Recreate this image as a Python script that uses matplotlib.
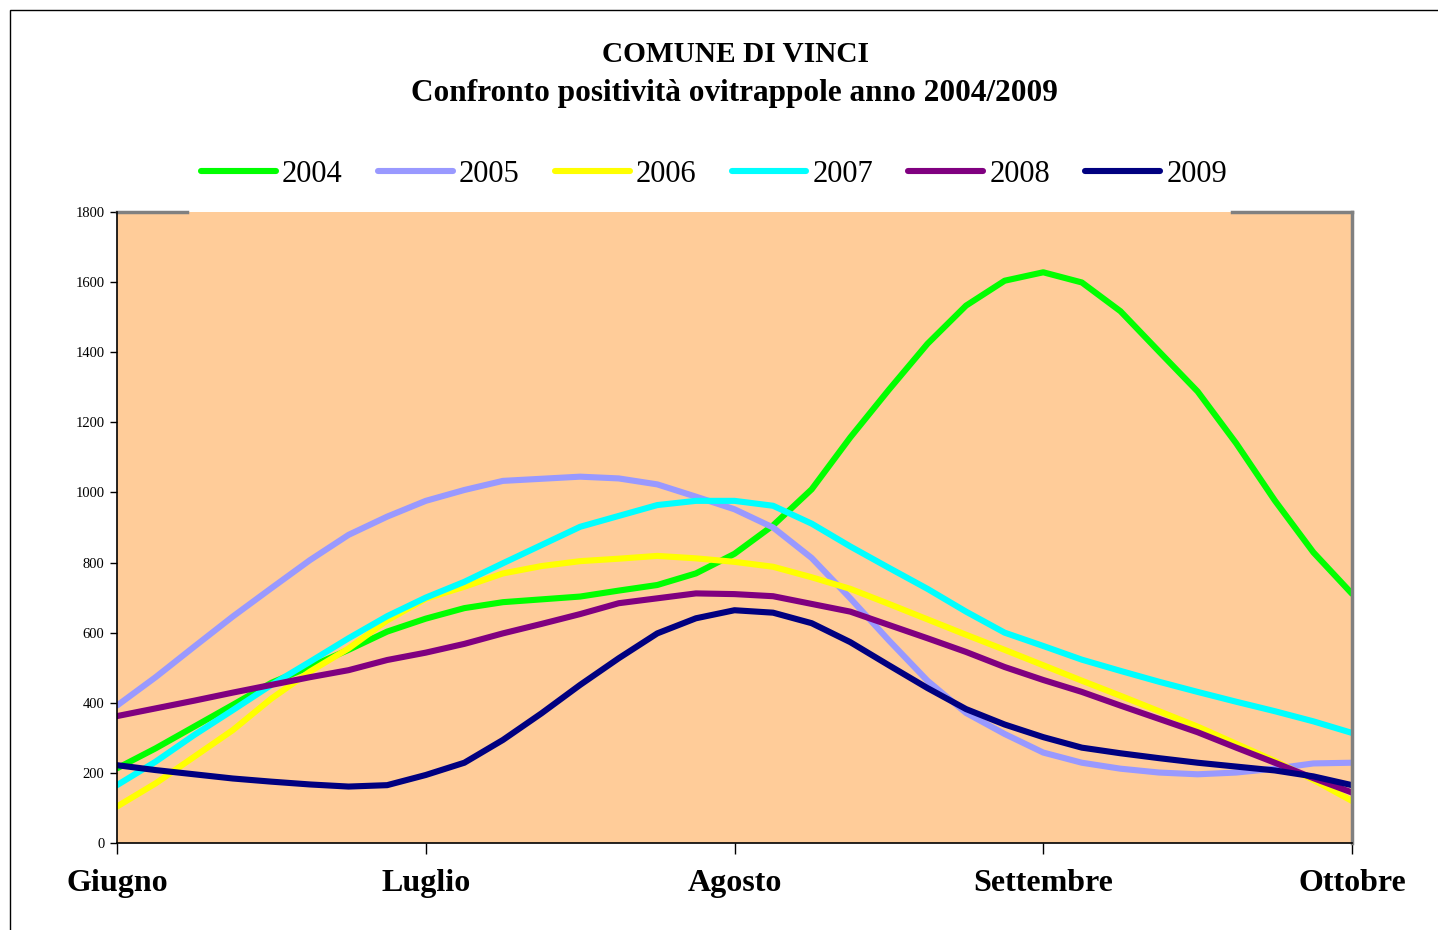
import matplotlib
matplotlib.use("Agg")
import matplotlib.pyplot as plt
from matplotlib.lines import Line2D
from matplotlib.patches import Rectangle

# 8 readings per month, Giugno -> Ottobre
months = ["Giugno", "Luglio", "Agosto", "Settembre", "Ottobre"]
steps_per_month = 8
years = ["2004", "2005", "2006", "2007", "2008", "2009"]

v2004 = [213, 270, 332, 394, 457, 503, 551, 603, 640, 670, 687, 695, 703, 720, 736, 769,
         825, 906, 1009, 1157, 1293, 1424, 1533, 1604, 1628, 1599, 1517, 1402, 1288, 1140,
         977, 829, 711]
v2005 = [392, 473, 560, 646, 727, 807, 879, 931, 976, 1007, 1033, 1039, 1045, 1040, 1023, 988,
         952, 900, 813, 698, 578, 463, 371, 311, 258, 229, 212, 201, 196, 201, 212, 227, 229]
v2006 = [104, 170, 246, 322, 412, 489, 555, 635, 697, 731, 769, 790, 804, 811, 819, 812,
         802, 788, 758, 725, 682, 638, 594, 551, 507, 463, 420, 376, 332, 283, 234, 180, 120]
v2007 = [165, 232, 308, 379, 451, 517, 584, 647, 700, 745, 798, 850, 902, 933, 964, 976,
         976, 962, 911, 846, 785, 725, 660, 600, 562, 523, 491, 460, 431, 403, 376, 347, 314]
v2008 = [362, 384, 406, 429, 451, 473, 493, 522, 543, 568, 598, 625, 653, 684, 698, 712,
         710, 704, 682, 660, 622, 584, 545, 502, 465, 431, 392, 354, 316, 272, 229, 185, 144]
v2009 = [222, 208, 196, 184, 175, 167, 161, 165, 194, 229, 294, 370, 451, 527, 598, 641,
         664, 657, 627, 573, 507, 442, 382, 338, 302, 272, 256, 242, 229, 218, 207, 190, 165]

series = [v2004, v2005, v2006, v2007, v2008, v2009]
colors = ["#00FF00", "#9999FF", "#FFFF00", "#00FFFF", "#800080", "#000080"]

plt.rcParams["font.family"] = ["Liberation Serif", "DejaVu Serif"]

fig = plt.figure(figsize=(14.38, 9.30), dpi=100)
W, H = 1438, 930

# outer chart frame
fig.patches.append(Rectangle((10 / W, -0.01), 1.0, 1 - 10 / H + 0.01, transform=fig.transFigure,
                             fill=False, edgecolor="black", linewidth=1.0))

ax = fig.add_axes([117 / W, 1 - 843 / H, (1352 - 117) / W, (843 - 212) / H])
ax.set_facecolor("#FFCC99")

x = [i / steps_per_month for i in range(len(v2004))]
for vals, col, yr in zip(series, colors, years):
    ax.plot(x, vals, color=col, lw=4.4, solid_capstyle="round", solid_joinstyle="round", label=yr)

ax.set_xlim(0, len(months) - 1)
ax.set_ylim(0, 1800)
ax.set_yticks(range(0, 1801, 200))
ax.set_xticks(range(len(months)))
ax.set_xticklabels(months, fontsize=23, fontweight="bold")
ax.tick_params(axis="y", labelsize=10.5, length=5, width=1, pad=4)
ax.tick_params(axis="x", length=8, width=1, pad=11)

for s in ("left", "bottom"):
    ax.spines[s].set_color("black")
    ax.spines[s].set_linewidth(1.2)
ax.spines["right"].set_color("#808080")
ax.spines["right"].set_linewidth(2.5)
ax.spines["top"].set_visible(False)
# top border partly hidden behind the legend box
for x0, x1 in [(0, (187 - 117) / 1235), ((1232 - 117) / 1235, 1)]:
    ax.add_line(Line2D([x0, x1], [1, 1], transform=ax.transAxes, color="#808080",
                       lw=2.5, clip_on=False))

fig.text(736 / W, 1 - 54 / H, "COMUNE DI VINCI", ha="center", va="center",
         fontsize=21.2, fontweight="bold")
fig.text(734 / W, 1 - 93 / H, "Confronto positività ovitrappole anno 2004/2009", ha="center",
         va="center", fontsize=22.5, fontweight="bold")

fig.legend(loc="center", bbox_to_anchor=(714 / W, 1 - 174 / H), ncol=6, frameon=False,
           fontsize=22, handlelength=2.45, handletextpad=0.2, columnspacing=1.15)

fig.savefig("out.png", dpi=100)
